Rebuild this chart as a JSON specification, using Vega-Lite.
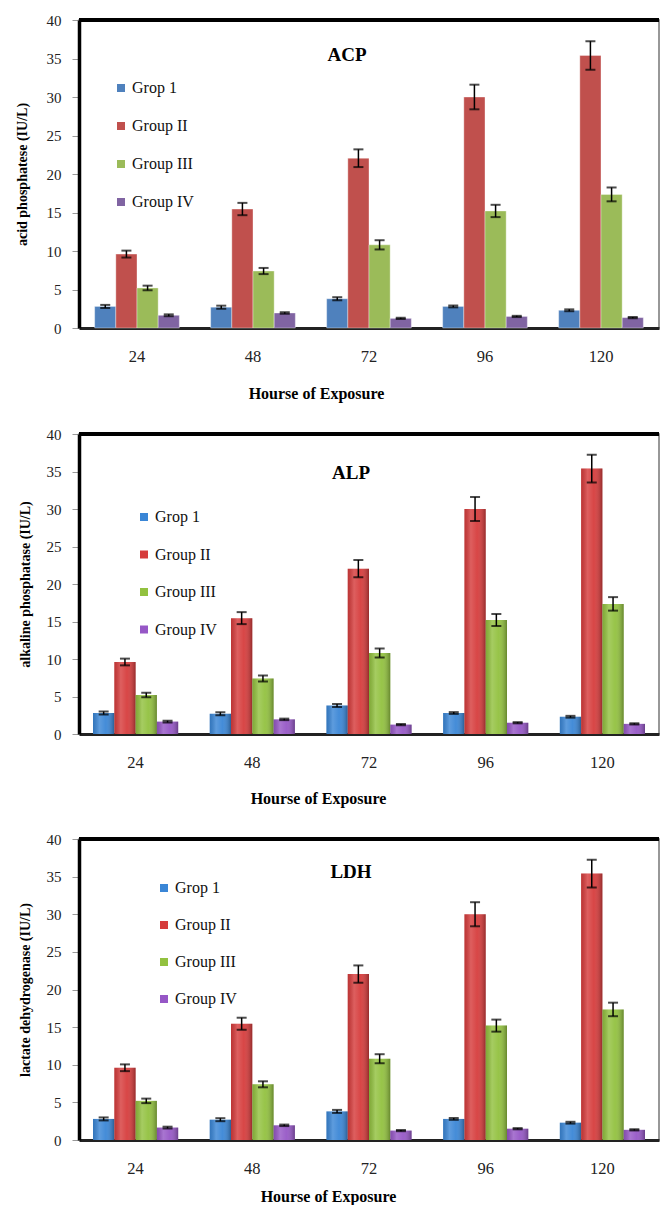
{
  "$schema": "https://vega.github.io/schema/vega-lite/v6.json",
  "padding": {"left": 14, "top": 12, "right": 0, "bottom": 0},
  "background": "white",
  "spacing": 24,
  "align": "none",
  "datasets": {
    "d": [
      {"hour": "24", "group": "Grop 1", "value": 2.8, "lo": 2.6, "hi": 3.0},
      {"hour": "24", "group": "Group II", "value": 9.6, "lo": 9.15, "hi": 10.05},
      {"hour": "24", "group": "Group III", "value": 5.2, "lo": 4.9, "hi": 5.5},
      {"hour": "24", "group": "Group IV", "value": 1.65, "lo": 1.53, "hi": 1.77},
      {"hour": "48", "group": "Grop 1", "value": 2.7, "lo": 2.5, "hi": 2.9},
      {"hour": "48", "group": "Group II", "value": 15.45, "lo": 14.65, "hi": 16.25},
      {"hour": "48", "group": "Group III", "value": 7.4, "lo": 7.0, "hi": 7.8},
      {"hour": "48", "group": "Group IV", "value": 1.95, "lo": 1.85, "hi": 2.05},
      {"hour": "72", "group": "Grop 1", "value": 3.8, "lo": 3.6, "hi": 4.0},
      {"hour": "72", "group": "Group II", "value": 22.05, "lo": 20.9, "hi": 23.2},
      {"hour": "72", "group": "Group III", "value": 10.8, "lo": 10.2, "hi": 11.4},
      {"hour": "72", "group": "Group IV", "value": 1.25, "lo": 1.17, "hi": 1.33},
      {"hour": "96", "group": "Grop 1", "value": 2.8, "lo": 2.68, "hi": 2.92},
      {"hour": "96", "group": "Group II", "value": 30.0, "lo": 28.4, "hi": 31.6},
      {"hour": "96", "group": "Group III", "value": 15.2, "lo": 14.4, "hi": 16.0},
      {"hour": "96", "group": "Group IV", "value": 1.5, "lo": 1.42, "hi": 1.58},
      {"hour": "120", "group": "Grop 1", "value": 2.3, "lo": 2.18, "hi": 2.42},
      {"hour": "120", "group": "Group II", "value": 35.4, "lo": 33.55, "hi": 37.25},
      {"hour": "120", "group": "Group III", "value": 17.35, "lo": 16.45, "hi": 18.25},
      {"hour": "120", "group": "Group IV", "value": 1.35, "lo": 1.27, "hi": 1.43}
    ]
  },
  "resolve": {
    "scale": {"x": "independent", "y": "independent", "color": "independent", "xOffset": "independent"},
    "legend": {"color": "independent"},
    "axis": {"x": "independent", "y": "independent"}
  },
  "vconcat": [
    {
      "width": 580,
      "height": 308,
      "data": {"name": "d"},
      "title": {"text": "ACP", "anchor": "middle", "frame": "group", "offset": -52, "dx": -22, "fontSize": 19, "font": "Liberation Serif", "fontWeight": "bold", "color": "#000"},
      "layer": [
        {
          "mark": {"type": "bar", "stroke": "#ffffff", "strokeWidth": 0.6, "strokeOpacity": 0.6},
          "encoding": {
            "x": {"field": "hour", "type": "ordinal", "sort": ["24", "48", "72", "96", "120"], "scale": {"paddingInner": 0.27, "paddingOuter": 0.135}, "axis": {"title": "Hourse of Exposure", "titleX": 237, "titlePadding": 20.5}},
            "xOffset": {"field": "group", "type": "nominal", "sort": ["Grop 1", "Group II", "Group III", "Group IV"], "scale": {"paddingInner": 0}},
            "y": {"field": "value", "type": "quantitative", "scale": {"domain": [0, 40]}, "axis": {"title": "acid phosphatese (IU/L)", "values": [0, 5, 10, 15, 20, 25, 30, 35, 40], "titlePadding": 17}},
            "color": {"field": "group", "type": "nominal", "scale": {"domain": ["Grop 1", "Group II", "Group III", "Group IV"], "range": ["#4f81bd", "#c0504d", "#9bbb59", "#8064a2"]},
              "legend": {"orient": "none", "legendX": 34, "legendY": 60, "title": null}}
          }
        },
        {
          "mark": {"type": "rule", "color": "#000", "strokeWidth": 1.5},
          "encoding": {
            "x": {"field": "hour", "type": "ordinal", "sort": ["24", "48", "72", "96", "120"]},
            "xOffset": {"field": "group", "type": "nominal", "sort": ["Grop 1", "Group II", "Group III", "Group IV"]},
            "y": {"field": "lo", "type": "quantitative", "axis": {"title": "acid phosphatese (IU/L)", "values": [0, 5, 10, 15, 20, 25, 30, 35, 40], "titlePadding": 17}}, "y2": {"field": "hi"}}
        },
        {
          "mark": {"type": "tick", "color": "#000", "size": 10, "thickness": 2},
          "encoding": {
            "x": {"field": "hour", "type": "ordinal", "sort": ["24", "48", "72", "96", "120"]},
            "xOffset": {"field": "group", "type": "nominal", "sort": ["Grop 1", "Group II", "Group III", "Group IV"]},
            "y": {"field": "lo", "type": "quantitative", "axis": {"title": "acid phosphatese (IU/L)", "values": [0, 5, 10, 15, 20, 25, 30, 35, 40], "titlePadding": 17}}}
        },
        {
          "mark": {"type": "tick", "color": "#000", "size": 10, "thickness": 2},
          "encoding": {
            "x": {"field": "hour", "type": "ordinal", "sort": ["24", "48", "72", "96", "120"]},
            "xOffset": {"field": "group", "type": "nominal", "sort": ["Grop 1", "Group II", "Group III", "Group IV"]},
            "y": {"field": "hi", "type": "quantitative", "axis": {"title": "acid phosphatese (IU/L)", "values": [0, 5, 10, 15, 20, 25, 30, 35, 40], "titlePadding": 17}}}
        },
        {
          "mark": {"type": "rule", "color": "#000", "strokeWidth": 3},
          "encoding": {"y": {"datum": 40, "type": "quantitative", "axis": {"title": "acid phosphatese (IU/L)", "values": [0, 5, 10, 15, 20, 25, 30, 35, 40], "titlePadding": 17}}}
        }
      ]
    },
    {
      "width": 580,
      "height": 300,
      "data": {"name": "d"},
      "title": {"text": "ALP", "anchor": "middle", "frame": "group", "offset": -56, "dx": -18, "fontSize": 19, "font": "Liberation Serif", "fontWeight": "bold", "color": "#000"},
      "layer": [
        {
          "mark": {"type": "bar"},
          "encoding": {
            "x": {"field": "hour", "type": "ordinal", "sort": ["24", "48", "72", "96", "120"], "scale": {"paddingInner": 0.27, "paddingOuter": 0.12}, "axis": {"title": "Hourse of Exposure", "titleX": 239, "titlePadding": 19.5}},
            "xOffset": {"field": "group", "type": "nominal", "sort": ["Grop 1", "Group II", "Group III", "Group IV"], "scale": {"paddingInner": 0}},
            "y": {"field": "value", "type": "quantitative", "scale": {"domain": [0, 40]}, "axis": {"title": "alkaline phosphatase (IU/L)", "values": [0, 5, 10, 15, 20, 25, 30, 35, 40], "titlePadding": 14}},
            "color": {"field": "group", "type": "nominal", "scale": {"domain": ["Grop 1", "Group II", "Group III", "Group IV"], "range": ["#3a86d6", "#d63c3c", "#92c13f", "#9657c6"]},
              "legend": {"orient": "none", "legendX": 57, "legendY": 75, "title": null, "rowPadding": 21.5}}
          }
        },
        {
          "mark": {"type": "bar", "fill": {"gradient": "linear", "x1": 0, "x2": 1, "y1": 0, "y2": 0, "stops": [{"offset": 0, "color": "rgba(0,0,0,0.12)"}, {"offset": 0.3, "color": "rgba(255,255,255,0.18)"}, {"offset": 0.6, "color": "rgba(255,255,255,0.05)"}, {"offset": 1, "color": "rgba(0,0,0,0.3)"}]}},
          "encoding": {
            "x": {"field": "hour", "type": "ordinal", "sort": ["24", "48", "72", "96", "120"]},
            "xOffset": {"field": "group", "type": "nominal", "sort": ["Grop 1", "Group II", "Group III", "Group IV"]},
            "y": {"field": "value", "type": "quantitative", "axis": {"title": "alkaline phosphatase (IU/L)", "values": [0, 5, 10, 15, 20, 25, 30, 35, 40], "titlePadding": 14}}}
        },
        {
          "mark": {"type": "rule", "color": "#000", "strokeWidth": 1.5},
          "encoding": {
            "x": {"field": "hour", "type": "ordinal", "sort": ["24", "48", "72", "96", "120"]},
            "xOffset": {"field": "group", "type": "nominal", "sort": ["Grop 1", "Group II", "Group III", "Group IV"]},
            "y": {"field": "lo", "type": "quantitative", "axis": {"title": "alkaline phosphatase (IU/L)", "values": [0, 5, 10, 15, 20, 25, 30, 35, 40], "titlePadding": 14}}, "y2": {"field": "hi"}}
        },
        {
          "mark": {"type": "tick", "color": "#000", "size": 10, "thickness": 2},
          "encoding": {
            "x": {"field": "hour", "type": "ordinal", "sort": ["24", "48", "72", "96", "120"]},
            "xOffset": {"field": "group", "type": "nominal", "sort": ["Grop 1", "Group II", "Group III", "Group IV"]},
            "y": {"field": "lo", "type": "quantitative", "axis": {"title": "alkaline phosphatase (IU/L)", "values": [0, 5, 10, 15, 20, 25, 30, 35, 40], "titlePadding": 14}}}
        },
        {
          "mark": {"type": "tick", "color": "#000", "size": 10, "thickness": 2},
          "encoding": {
            "x": {"field": "hour", "type": "ordinal", "sort": ["24", "48", "72", "96", "120"]},
            "xOffset": {"field": "group", "type": "nominal", "sort": ["Grop 1", "Group II", "Group III", "Group IV"]},
            "y": {"field": "hi", "type": "quantitative", "axis": {"title": "alkaline phosphatase (IU/L)", "values": [0, 5, 10, 15, 20, 25, 30, 35, 40], "titlePadding": 14}}}
        },
        {
          "mark": {"type": "rule", "color": "#000", "strokeWidth": 3},
          "encoding": {"y": {"datum": 40, "type": "quantitative", "axis": {"title": "alkaline phosphatase (IU/L)", "values": [0, 5, 10, 15, 20, 25, 30, 35, 40], "titlePadding": 14}}}
        }
      ]
    },
    {
      "width": 580,
      "height": 301,
      "data": {"name": "d"},
      "title": {"text": "LDH", "anchor": "middle", "frame": "group", "offset": -50, "dx": -18, "fontSize": 19, "font": "Liberation Serif", "fontWeight": "bold", "color": "#000"},
      "layer": [
        {
          "mark": {"type": "bar"},
          "encoding": {
            "x": {"field": "hour", "type": "ordinal", "sort": ["24", "48", "72", "96", "120"], "scale": {"paddingInner": 0.27, "paddingOuter": 0.12}, "axis": {"title": "Hourse of Exposure", "titleX": 249, "titlePadding": 11.5}},
            "xOffset": {"field": "group", "type": "nominal", "sort": ["Grop 1", "Group II", "Group III", "Group IV"], "scale": {"paddingInner": 0}},
            "y": {"field": "value", "type": "quantitative", "scale": {"domain": [0, 40]}, "axis": {"title": "lactate dehydrogenase (IU/L)", "values": [0, 5, 10, 15, 20, 25, 30, 35, 40], "titlePadding": 14}},
            "color": {"field": "group", "type": "nominal", "scale": {"domain": ["Grop 1", "Group II", "Group III", "Group IV"], "range": ["#3a86d6", "#d63c3c", "#92c13f", "#9657c6"]},
              "legend": {"orient": "none", "legendX": 77, "legendY": 41, "title": null, "rowPadding": 21}}
          }
        },
        {
          "mark": {"type": "bar", "fill": {"gradient": "linear", "x1": 0, "x2": 1, "y1": 0, "y2": 0, "stops": [{"offset": 0, "color": "rgba(0,0,0,0.12)"}, {"offset": 0.3, "color": "rgba(255,255,255,0.18)"}, {"offset": 0.6, "color": "rgba(255,255,255,0.05)"}, {"offset": 1, "color": "rgba(0,0,0,0.3)"}]}},
          "encoding": {
            "x": {"field": "hour", "type": "ordinal", "sort": ["24", "48", "72", "96", "120"]},
            "xOffset": {"field": "group", "type": "nominal", "sort": ["Grop 1", "Group II", "Group III", "Group IV"]},
            "y": {"field": "value", "type": "quantitative", "axis": {"title": "lactate dehydrogenase (IU/L)", "values": [0, 5, 10, 15, 20, 25, 30, 35, 40], "titlePadding": 14}}}
        },
        {
          "mark": {"type": "rule", "color": "#000", "strokeWidth": 1.5},
          "encoding": {
            "x": {"field": "hour", "type": "ordinal", "sort": ["24", "48", "72", "96", "120"]},
            "xOffset": {"field": "group", "type": "nominal", "sort": ["Grop 1", "Group II", "Group III", "Group IV"]},
            "y": {"field": "lo", "type": "quantitative", "axis": {"title": "lactate dehydrogenase (IU/L)", "values": [0, 5, 10, 15, 20, 25, 30, 35, 40], "titlePadding": 14}}, "y2": {"field": "hi"}}
        },
        {
          "mark": {"type": "tick", "color": "#000", "size": 10, "thickness": 2},
          "encoding": {
            "x": {"field": "hour", "type": "ordinal", "sort": ["24", "48", "72", "96", "120"]},
            "xOffset": {"field": "group", "type": "nominal", "sort": ["Grop 1", "Group II", "Group III", "Group IV"]},
            "y": {"field": "lo", "type": "quantitative", "axis": {"title": "lactate dehydrogenase (IU/L)", "values": [0, 5, 10, 15, 20, 25, 30, 35, 40], "titlePadding": 14}}}
        },
        {
          "mark": {"type": "tick", "color": "#000", "size": 10, "thickness": 2},
          "encoding": {
            "x": {"field": "hour", "type": "ordinal", "sort": ["24", "48", "72", "96", "120"]},
            "xOffset": {"field": "group", "type": "nominal", "sort": ["Grop 1", "Group II", "Group III", "Group IV"]},
            "y": {"field": "hi", "type": "quantitative", "axis": {"title": "lactate dehydrogenase (IU/L)", "values": [0, 5, 10, 15, 20, 25, 30, 35, 40], "titlePadding": 14}}}
        },
        {
          "mark": {"type": "rule", "color": "#000", "strokeWidth": 3},
          "encoding": {"y": {"datum": 40, "type": "quantitative", "axis": {"title": "lactate dehydrogenase (IU/L)", "values": [0, 5, 10, 15, 20, 25, 30, 35, 40], "titlePadding": 14}}}
        }
      ]
    }
  ],
  "config": {
    "view": {"stroke": "#777", "strokeWidth": 1.5},
    "axis": {
      "labelFont": "Liberation Serif",
      "labelFontSize": 15,
      "labelColor": "#222",
      "titleFont": "Liberation Serif",
      "titleFontSize": 14,
      "titleFontWeight": "bold",
      "titleColor": "#000",
      "grid": false
    },
    "axisX": {"domainColor": "#222", "domainWidth": 3, "ticks": false, "labelPadding": 20, "labelAngle": 0, "labelFontSize": 16.5, "titleFontSize": 16},
    "axisY": {"domainColor": "#000", "domainWidth": 3.5, "tickColor": "#999", "tickSize": 7, "labelPadding": 11},
    "legend": {"labelFont": "Liberation Serif", "labelFontSize": 16, "labelColor": "#111", "symbolType": "square", "symbolSize": 64, "symbolStrokeWidth": 0, "rowPadding": 22, "padding": 0, "labelOffset": 3}
  }
}
